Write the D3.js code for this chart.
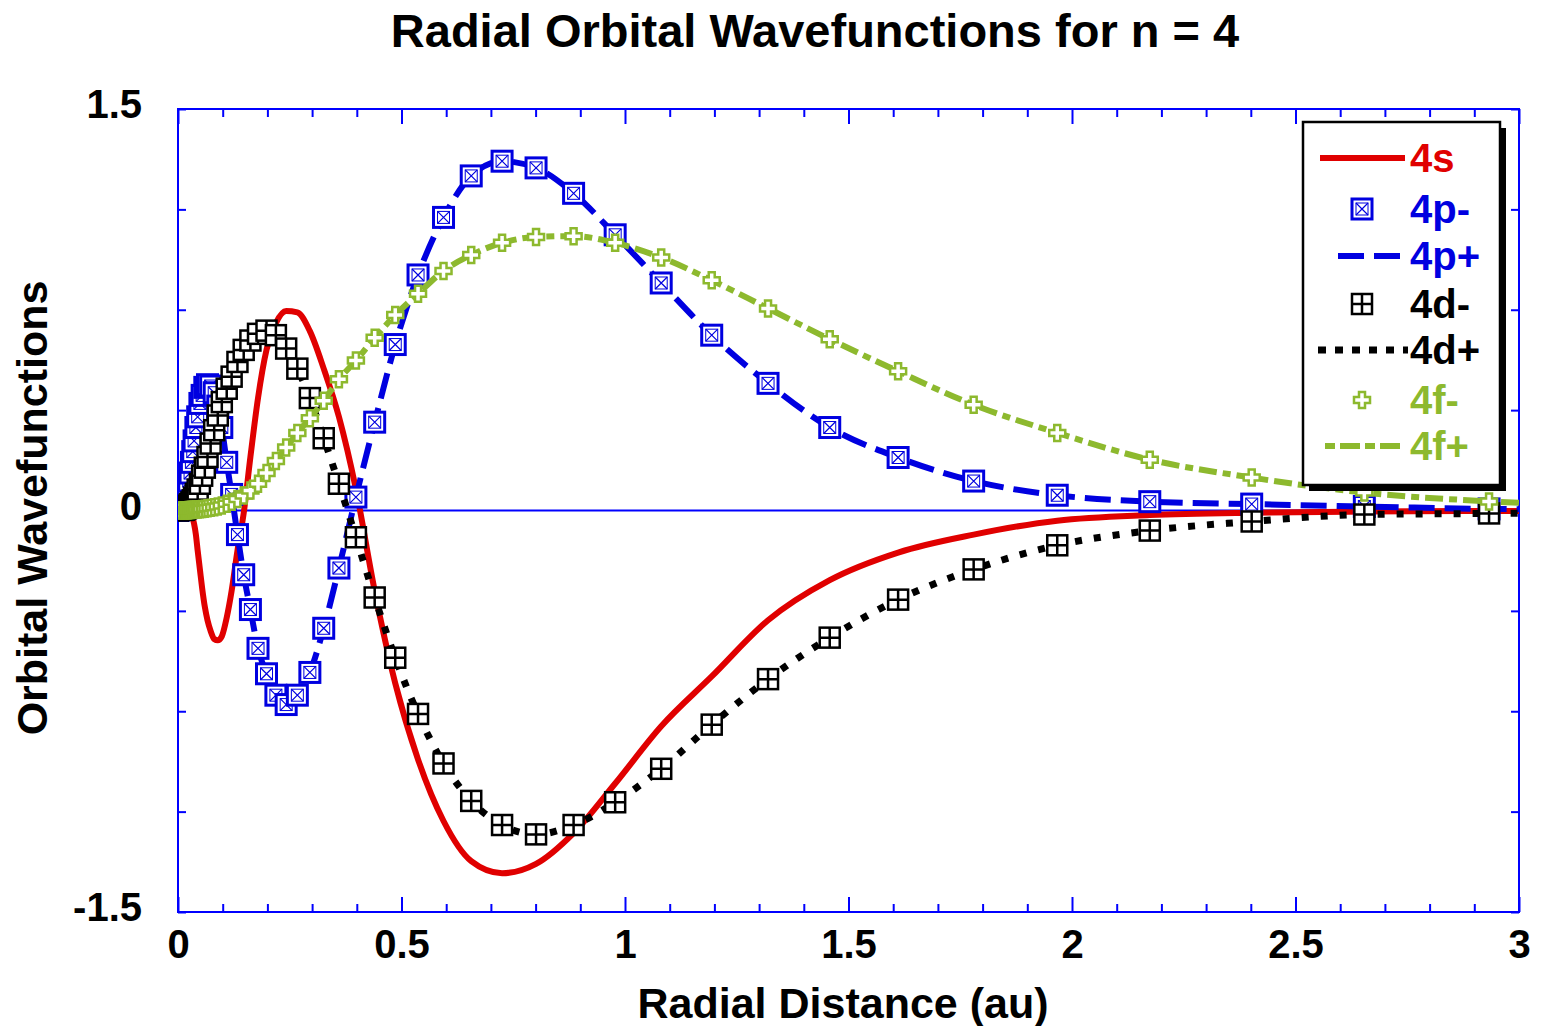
<!DOCTYPE html>
<html>
<head>
<meta charset="utf-8">
<script src="https://cdn.jsdelivr.net/npm/d3@7"></script>
<style>
body { margin: 0; background: #fff; }
text { font-family: "Liberation Sans", Arial, sans-serif; font-weight: bold; }
</style>
</head>
<body>
<div id="chart"></div>
<script>
// radial grid (au)
var radius = [0, 0.010, 0.011, 0.012, 0.013, 0.015, 0.016, 0.018, 0.020, 0.022,
    0.024, 0.027, 0.030, 0.033, 0.036, 0.040, 0.044, 0.049, 0.054, 0.060,
    0.066, 0.073, 0.081, 0.089, 0.098, 0.109, 0.120, 0.133, 0.147, 0.162,
    0.179, 0.198, 0.219, 0.242, 0.267, 0.295, 0.326, 0.360, 0.398, 0.440,
    0.486, 0.537, 0.594, 0.656, 0.725, 0.801, 0.885, 0.978, 1.081, 1.194,
    1.320, 1.458, 1.611, 1.780, 1.967, 2.174, 2.402, 2.654, 2.933, 3.240];

var wave4s = [0, 0.02, 0.02, 0.02, 0.02, 0.015, 0.012, 0.008, 0.003, -0.002,
    -0.008, -0.015, -0.022, -0.03, -0.05, -0.09, -0.15, -0.22, -0.29, -0.36,
    -0.41, -0.45, -0.48, -0.485, -0.47, -0.40, -0.30, -0.15, -0.01, 0.20,
    0.42, 0.60, 0.70, 0.745, 0.74, 0.67, 0.53, 0.35, 0.08, -0.30,
    -0.645, -0.93, -1.16, -1.31, -1.355, -1.32, -1.205, -1.02, -0.806, -0.62,
    -0.41, -0.26, -0.157, -0.09, -0.038, -0.017, -0.008, -0.004, -0.002, -0.001];

var wave4p = [0, 0.005, 0.008, 0.012, 0.017, 0.025, 0.035, 0.05, 0.065, 0.085,
    0.11, 0.14, 0.18, 0.22, 0.26, 0.31, 0.35, 0.40, 0.43, 0.46,
    0.47, 0.465, 0.44, 0.39, 0.31, 0.18, 0.06, -0.09, -0.24, -0.37,
    -0.515, -0.61, -0.69, -0.725, -0.69, -0.605, -0.44, -0.215, 0.05, 0.33,
    0.62, 0.88, 1.095, 1.25, 1.305, 1.28, 1.185, 1.03, 0.85, 0.655,
    0.475, 0.31, 0.198, 0.11, 0.057, 0.033, 0.024, 0.015, 0.006, 0.003];

var wave4d = [0, 0.002, 0.003, 0.003, 0.004, 0.006, 0.007, 0.009, 0.011, 0.014,
    0.018, 0.024, 0.03, 0.038, 0.048, 0.062, 0.078, 0.10, 0.13, 0.16,
    0.20, 0.25, 0.30, 0.355, 0.405, 0.455, 0.50, 0.555, 0.60, 0.635,
    0.66, 0.672, 0.655, 0.605, 0.53, 0.42, 0.27, 0.10, -0.10, -0.325,
    -0.55, -0.76, -0.945, -1.085, -1.175, -1.21, -1.175, -1.09, -0.965, -0.80,
    -0.63, -0.475, -0.333, -0.22, -0.13, -0.075, -0.041, -0.015, -0.011, -0.005];

var wave4f = [0, 0, 0, 0, 0, 0.001, 0.001, 0.001, 0.001, 0.001,
    0.002, 0.002, 0.002, 0.003, 0.003, 0.004, 0.004, 0.005, 0.006, 0.007,
    0.008, 0.01, 0.012, 0.015, 0.019, 0.025, 0.033, 0.043, 0.056, 0.075,
    0.10, 0.14, 0.185, 0.235, 0.29, 0.345, 0.41, 0.49, 0.56, 0.645,
    0.73, 0.81, 0.895, 0.955, 1.0, 1.022, 1.025, 1.0, 0.945, 0.86,
    0.755, 0.64, 0.52, 0.395, 0.29, 0.19, 0.123, 0.067, 0.034, 0.015];

var seriesNames = ["4s", "4p-", "4p+", "4d-", "4d+", "4f-", "4f+"];
var xTickValues = [0, 0.5, 1, 1.5, 2, 2.5, 3];
var xTickLabels = ["0", "0.5", "1", "1.5", "2", "2.5", "3"];
var yLabelValues = [-1.5, 0, 1.5];
var yTickLabels = ["-1.5", "0", "1.5"];

var red = "#e00000", blue = "#0000e0", green = "#8db92e", axisBlue = "#0000ff";

var svg = d3.select("#chart").append("svg")
    .attr("width", 1541)
    .attr("height", 1026);

var plotLeft = 178, plotRight = 1519, plotTop = 109, plotBottom = 912;
var x = d3.scaleLinear().domain([0, 3]).range([plotLeft, plotRight]);
var y = d3.scaleLinear().domain([-1.5, 1.5]).range([plotBottom, plotTop]);

var minorX = d3.range(1, 30).map(function(i) { return i / 10; })
    .filter(function(v) { return Math.abs(v * 2 - Math.round(v * 2)) > 1e-6; });
var yTicks = d3.range(-4, 5).map(function(i) { return i * 0.375; });

var styleAxis = function(g) {
    g.select(".domain").remove();
    g.selectAll(".tick line").attr("stroke", axisBlue).attr("stroke-width", 2);
    g.selectAll(".tick text").attr("fill", "#000").attr("font-size", 40)
        .attr("font-family", "'Liberation Sans', Arial, sans-serif");
};

// ticks, all pointing inwards
svg.append("g").attr("transform", "translate(0," + plotBottom + ")")
    .call(d3.axisBottom(x).tickValues(minorX).tickSize(-8).tickFormat(""))
    .call(styleAxis);
svg.append("g").attr("transform", "translate(0," + plotBottom + ")")
    .call(d3.axisBottom(x).tickValues(xTickValues).tickSize(-15).tickPadding(18)
        .tickFormat(function(d, i) { return xTickLabels[i]; }))
    .call(styleAxis);
svg.append("g").attr("transform", "translate(0," + plotTop + ")")
    .call(d3.axisTop(x).tickValues(minorX).tickSize(-8).tickFormat(""))
    .call(styleAxis);
svg.append("g").attr("transform", "translate(0," + plotTop + ")")
    .call(d3.axisTop(x).tickValues(xTickValues).tickSize(-15).tickFormat(""))
    .call(styleAxis);
svg.append("g").attr("transform", "translate(" + plotLeft + ",0)")
    .call(d3.axisLeft(y).tickValues(yTicks).tickSize(-8).tickFormat(""))
    .call(styleAxis);
svg.append("g").attr("transform", "translate(" + plotLeft + ",0)")
    .call(d3.axisLeft(y).tickValues(yLabelValues).tickSize(0).tickPadding(36)
        .tickFormat(function(d, i) { return yTickLabels[i]; }))
    .call(styleAxis)
    .selectAll(".tick text").attr("dy", "0.22em");
svg.append("g").attr("transform", "translate(" + plotRight + ",0)")
    .call(d3.axisRight(y).tickValues(yTicks).tickSize(-8).tickFormat(""))
    .call(styleAxis);

svg.append("rect")
    .attr("x", plotLeft).attr("y", plotTop)
    .attr("width", plotRight - plotLeft).attr("height", plotBottom - plotTop)
    .attr("fill", "none").attr("stroke", axisBlue).attr("stroke-width", 2);

svg.append("line")
    .attr("x1", x(0)).attr("x2", x(3))
    .attr("y1", y(0)).attr("y2", y(0))
    .attr("stroke", axisBlue).attr("stroke-width", 2);

// titles
svg.append("text").attr("x", 815).attr("y", 47)
    .attr("text-anchor", "middle").attr("font-size", 47)
    .text("Radial Orbital Wavefunctions for n = 4");
svg.append("text").attr("x", 843).attr("y", 1018)
    .attr("text-anchor", "middle").attr("font-size", 43)
    .text("Radial Distance (au)");
svg.append("text")
    .attr("transform", "translate(47,508) rotate(-90)")
    .attr("text-anchor", "middle").attr("font-size", 43)
    .text("Orbital Wavefunctions");

// curves
svg.append("clipPath").attr("id", "plotClip")
    .append("rect").attr("x", plotLeft).attr("y", plotTop)
    .attr("width", plotRight - plotLeft).attr("height", plotBottom - plotTop);
var plot = svg.append("g").attr("clip-path", "url(#plotClip)");

var line = d3.line()
    .curve(d3.curveMonotoneX)
    .x(function(d) { return x(d[0]); })
    .y(function(d) { return y(d[1]); });

var pairs = function(values) {
    return radius.map(function(r, i) { return [r, values[i]]; });
};

var boxX = function(g, color) {
    g.append("rect").attr("x", -10).attr("y", -10).attr("width", 20).attr("height", 20)
        .attr("fill", "#fff").attr("stroke", color).attr("stroke-width", 3);
    g.append("rect").attr("x", -6).attr("y", -6).attr("width", 12).attr("height", 12)
        .attr("fill", "none").attr("stroke", color).attr("stroke-width", 1);
    g.append("path").attr("d", "M-6,-6L6,6M6,-6L-6,6")
        .attr("stroke", color).attr("stroke-width", 1.2);
};
var boxPlus = function(g, color) {
    g.append("rect").attr("x", -10).attr("y", -10).attr("width", 20).attr("height", 20)
        .attr("fill", "#fff").attr("stroke", color).attr("stroke-width", 2.5);
    g.append("path").attr("d", "M0,-10V10M-10,0H10")
        .attr("stroke", color).attr("stroke-width", 2.5);
};
var cross = function(g, color) {
    g.append("path")
        .attr("d", "M-3,-8H3V-3H8V3H3V8H-3V3H-8V-3H-3Z")
        .attr("fill", "#fff").attr("stroke", color).attr("stroke-width", 2.5);
};

var drawLine = function(sel, values, color, width, dash) {
    sel.append("path").datum(pairs(values))
        .attr("d", line)
        .attr("fill", "none")
        .attr("stroke", color)
        .attr("stroke-width", width)
        .attr("stroke-dasharray", dash);
};
var drawMarkers = function(sel, values, shape, color) {
    sel.append("g").selectAll("g")
        .data(pairs(values))
        .join("g")
        .attr("transform", function(d) { return "translate(" + x(d[0]) + "," + y(d[1]) + ")"; })
        .each(function() { shape(d3.select(this), color); });
};

drawLine(plot, wave4s, red, 6, null);
drawLine(plot, wave4p, blue, 6, "26,10");
drawMarkers(plot, wave4p, boxX, blue);
drawLine(plot, wave4d, "#000", 7, "7,12");
drawMarkers(plot, wave4d, boxPlus, "#000");
drawLine(plot, wave4f, green, 6, "18,6,8,6");
drawMarkers(plot, wave4f, cross, green);

// legend
var legend = svg.append("g");
legend.append("rect").attr("x", 1309).attr("y", 128).attr("width", 197).attr("height", 363)
    .attr("fill", "#000");
legend.append("rect").attr("x", 1303).attr("y", 122).attr("width", 197).attr("height", 363)
    .attr("fill", "#fff").attr("stroke", "#000").attr("stroke-width", 2.5);

var legendColors = [red, blue, blue, "#000", "#000", green, green];
var legendY = [158, 209, 256, 304, 350, 400, 446];
var sample = function(ly, color, width, dash, x1, x2) {
    legend.append("line").attr("x1", x1).attr("x2", x2).attr("y1", ly).attr("y2", ly)
        .attr("stroke", color).attr("stroke-width", width).attr("stroke-dasharray", dash);
};
sample(legendY[0], red, 6, null, 1320, 1405);
boxX(legend.append("g").attr("transform", "translate(1362," + legendY[1] + ")"), blue);
sample(legendY[2], blue, 6, "26,10", 1338, 1402);
boxPlus(legend.append("g").attr("transform", "translate(1362," + legendY[3] + ")"), "#000");
sample(legendY[4], "#000", 7, "8,9", 1318, 1408);
cross(legend.append("g").attr("transform", "translate(1362," + legendY[5] + ")"), green);
sample(legendY[6], green, 6, "10,5,20,5", 1325, 1405);

legend.selectAll("text.name")
    .data(seriesNames)
    .join("text")
    .attr("class", "name")
    .attr("x", 1410)
    .attr("y", function(d, i) { return legendY[i] + 14; })
    .attr("font-size", 40)
    .attr("fill", function(d, i) { return legendColors[i]; })
    .text(function(d) { return d; });
</script>
</body>
</html>
